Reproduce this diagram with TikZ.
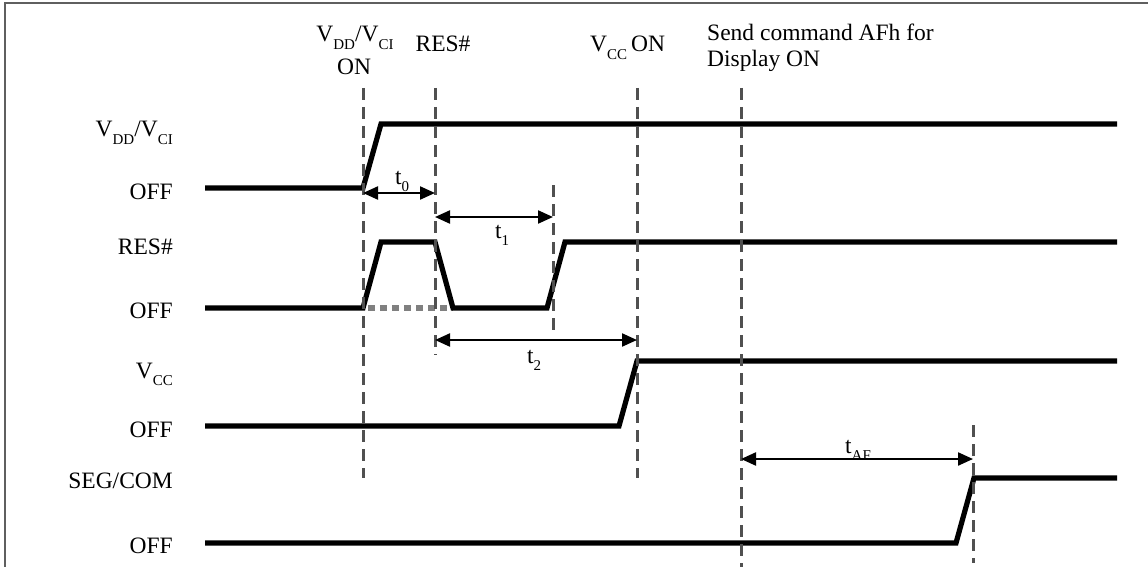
\documentclass[tikz,border=0pt]{standalone}
\usepackage{fontspec}
\setmainfont{Liberation Serif}
\usetikzlibrary{arrows.meta}
\definecolor{guidegray}{RGB}{80,80,80}
\definecolor{dotgray}{RGB}{128,128,128}
\definecolor{framegray}{RGB}{95,95,95}
\newcommand\mysub[1]{\raisebox{-0.34em}{\fontsize{15}{15}\selectfont #1}}
\newcommand\mainfs{\fontsize{23.5}{28}\selectfont}
\begin{document}
\begin{tikzpicture}[x=1pt,y=-1pt,
  lbl/.style={inner sep=0pt,font=\mainfs},
  leftlbl/.style={lbl,anchor=base east},
  sig/.style={line width=5.2pt,line join=miter},
  guide/.style={guidegray,line width=3pt,dash pattern=on 12pt off 7pt},
  dotline/.style={dotgray,line width=6.5pt,dash pattern=on 7pt off 5pt},
  dim/.style={line width=2.2pt,{Triangle[length=15pt,width=13pt]}-{Triangle[length=15pt,width=13pt]}},
]
\useasboundingbox (0,0) rectangle (1148,567);
% frame
\draw[framegray,line width=1.6pt] (5,567) -- (5,3) -- (1148,3);

% left labels
\node[leftlbl] (lvdd) at (173,137) {V\mysub{DD}/V\mysub{CI}};
\node[leftlbl] (loff1) at (173,199) {OFF};
\node[leftlbl] (lres) at (173,254) {RES\#};
\node[leftlbl] (loff2) at (173,318) {OFF};
\node[leftlbl] (lvcc) at (173,378) {V\mysub{CC}};
\node[leftlbl] (loff3) at (173,437) {OFF};
\node[leftlbl] (lseg) at (173,488) {SEG/COM};
\node[leftlbl] (loff4) at (173,553) {OFF};

% top labels
\node[lbl,anchor=base] (tvdd) at (355,42) {V\mysub{DD}/V\mysub{CI}};
\node[lbl,anchor=base] (tvddon) at (354,75) {ON};
\node[lbl,anchor=base] (tres) at (443,52) {RES\#};
\node[lbl,anchor=base west] (tvcc) at (590,52) {V\mysub{CC}\,ON};
\node[lbl,anchor=base west] (tsend1) at (707,41) {Send command AFh for};
\node[lbl,anchor=base west] (tsend2) at (707,67) {Display ON};

% signals
\draw[sig] (205,188) -- (363,188) -- (381,124) -- (1117,124);
\draw[dotline] (368,308) -- (453,308);
\draw[sig] (205,308) -- (363,308) -- (381,242) -- (435,242) -- (453,308) -- (547,308) -- (565,242) -- (1117,242);
\draw[sig] (205,426) -- (619,426) -- (637,361) -- (1117,361);
\draw[sig] (205,543) -- (956,543) -- (974,478) -- (1117,478);

% guide lines
\coordinate (g1t) at (363,88);  \coordinate (g1b) at (363,478);
\coordinate (g2t) at (435,88);  \coordinate (g2b) at (435,355);
\coordinate (g3t) at (553,185); \coordinate (g3b) at (553,330);
\coordinate (g4t) at (637,88);  \coordinate (g4b) at (637,478);
\coordinate (g5t) at (741,88);  \coordinate (g5b) at (741,567);
\coordinate (g6t) at (973,425); \coordinate (g6b) at (973,563);
\draw[guide] (g1t) -- (g1b);
\draw[guide] (g2t) -- (g2b);
\draw[guide] (g3t) -- (g3b);
\draw[guide] (g4t) -- (g4b);
\draw[guide] (g5t) -- (g5b);
\draw[guide] (g6t) -- (g6b);

% timing arrows
\coordinate (a0l) at (363,193); \coordinate (a0r) at (435,193);
\coordinate (a1l) at (435,217); \coordinate (a1r) at (553,217);
\coordinate (a2l) at (435,340); \coordinate (a2r) at (637,340);
\coordinate (a3l) at (741,459); \coordinate (a3r) at (973,459);
\node[lbl,anchor=base west] (t0) at (395,184) {t\mysub{0}};
\node[lbl,anchor=base west] (t1) at (495,238) {t\mysub{1}};
\node[lbl,anchor=base west] (t2) at (527,363) {t\mysub{2}};
\node[lbl,anchor=base west] (taf) at (845,453) {t\mysub{AF}};
\draw[dim] (a0l) -- (a0r);
\draw[dim] (a1l) -- (a1r);
\draw[dim] (a2l) -- (a2r);
\draw[dim] (a3l) -- (a3r);
\end{tikzpicture}
\end{document}
